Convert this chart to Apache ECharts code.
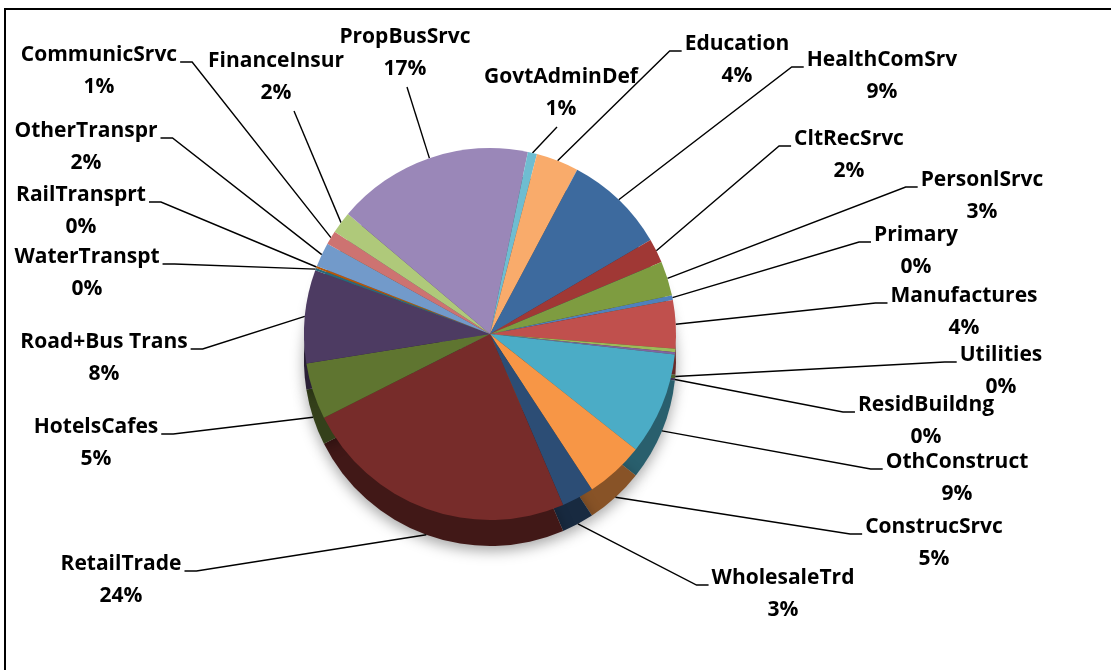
<!DOCTYPE html>
<html>
<head>
<meta charset="utf-8">
<script src="https://cdn.jsdelivr.net/npm/echarts@6/dist/echarts.min.js"></script>
<style>
html,body{margin:0;padding:0;background:#fff;}
#c{width:1111px;height:670px;}
</style>
</head>
<body>
<div id="c"></div>
<script>
// ---- data ----
const categories = ['Primary','Manufactures','Utilities','ResidBuildng','OthConstruct','ConstrucSrvc',
  'WholesaleTrd','RetailTrade','HotelsCafes','Road+Bus Trans','WaterTranspt','RailTransprt',
  'OtherTranspr','CommunicSrvc','FinanceInsur','PropBusSrvc','GovtAdminDef','Education',
  'HealthComSrv','CltRecSrvc','PersonlSrvc'];
const values = [0.4, 4.2, 0.3, 0.2, 8.9, 5.1, 2.8, 24.0, 4.9, 8.1, 0.2, 0.2,
  2.1, 1.2, 1.9, 17.1, 0.8, 3.7, 8.8, 2.1, 3.0];

// ---- styles ----
const palette = ['#4F81BD','#C0504D','#9BBB59','#8064A2','#4BACC6','#F79646',
  '#2C4D75','#772C2A','#5F7530','#4D3B62','#276A7C','#B65708',
  '#729ACA','#CD7371','#AFC97A','#9A87B8','#6FBDD1','#F9AB6B',
  '#3D6A9E','#A03835','#7E9C40'];
// label block centre and side of the leader-line elbow
const labelPos = {
  'CommunicSrvc':[99,71,'L'], 'OtherTranspr':[86,147,'L'], 'RailTransprt':[81,211,'L'],
  'WaterTranspt':[87,273,'L'], 'Road+Bus Trans':[104,358,'L'], 'HotelsCafes':[96,443,'L'],
  'RetailTrade':[121,580,'L'],
  'FinanceInsur':[276,77,'T'], 'PropBusSrvc':[405,53,'T'], 'GovtAdminDef':[561,93,'T'],
  'Education':[737,60,'R'], 'HealthComSrv':[882,76,'R'], 'CltRecSrvc':[849,155,'R'],
  'PersonlSrvc':[982,196,'R'], 'Primary':[916,251,'R'], 'Manufactures':[964,312,'R'],
  'Utilities':[1001,371,'R'], 'ResidBuildng':[926,421,'R'], 'OthConstruct':[957,478,'R'],
  'ConstrucSrvc':[934,543,'R'], 'WholesaleTrd':[783,594,'R']
};
const CX = 490, CY = 334, R = 186, DEPTH = 26;

function shade(hex, f){
  const n = parseInt(hex.slice(1),16);
  const r = Math.round(((n>>16)&255)*f), g = Math.round(((n>>8)&255)*f), b = Math.round((n&255)*f);
  return 'rgb('+r+','+g+','+b+')';
}

const topData = categories.map((n,i)=>({name:n, value:values[i], itemStyle:{color:palette[i]}}));
const sideData = categories.map((n,i)=>({name:n, value:values[i], itemStyle:{color:shade(palette[i],0.55)}}));

const chart = echarts.init(document.getElementById('c'), null, {renderer:'canvas'});
chart.setOption({
  backgroundColor:'#fff',
  animation:false,
  graphic:[{type:'rect', shape:{x:5, y:9, width:1200, height:800},
    style:{fill:'none', stroke:'#000', lineWidth:2}, silent:true, z:100}],
  series:[
    {
      type:'pie', silent:true, center:[CX, CY+DEPTH], radius:R, startAngle:12, clockwise:true,
      data:sideData, label:{show:false}, labelLine:{show:false},
      itemStyle:{borderWidth:0, shadowBlur:14, shadowColor:'rgba(0,0,0,0.35)', shadowOffsetY:5},
      z:1
    },
    {
      type:'pie', center:[CX, CY], radius:R, startAngle:12, clockwise:true,
      data:topData, avoidLabelOverlap:false,
      itemStyle:{borderWidth:0},
      label:{show:true, position:'outside', color:'#000', fontFamily:'Open Sans', fontWeight:'bold',
        fontSize:21, lineHeight:32,
        formatter:p=>p.name+'\n'+Math.round(p.percent)+'%'},
      labelLine:{show:true, length:10, length2:10, lineStyle:{color:'#000', width:1.4}},
      labelLayout:function(params){
        const name = categories[params.dataIndex];
        const lp = labelPos[name];
        const w = params.labelRect.width, h = params.labelRect.height;
        const cx = lp[0], cy = lp[1];
        const p0 = params.labelLinePoints[0].slice();
        if (p0[1] > CY) p0[1] += DEPTH;
        const ny = cy - 16 + 7;
        let pts;
        if (lp[2]==='L') {
          const ex = cx + w/2 + 3;
          pts = [p0, [ex+12, ny], [ex, ny]];
        } else if (lp[2]==='R') {
          const ex = cx - w/2 - 3;
          pts = [p0, [ex-12, ny], [ex, ny]];
        } else {
          const ey = cy + h/2 + 2;
          const ex = name==='FinanceInsur' ? cx+18 : (name==='GovtAdminDef' ? cx-4 : cx+2);
          pts = [p0, [ex, ey], [ex, ey]];
        }
        return {x:cx, y:cy, align:'center', verticalAlign:'middle', labelLinePoints:pts};
      },
      z:2
    }
  ]
});
</script>
</body>
</html>
